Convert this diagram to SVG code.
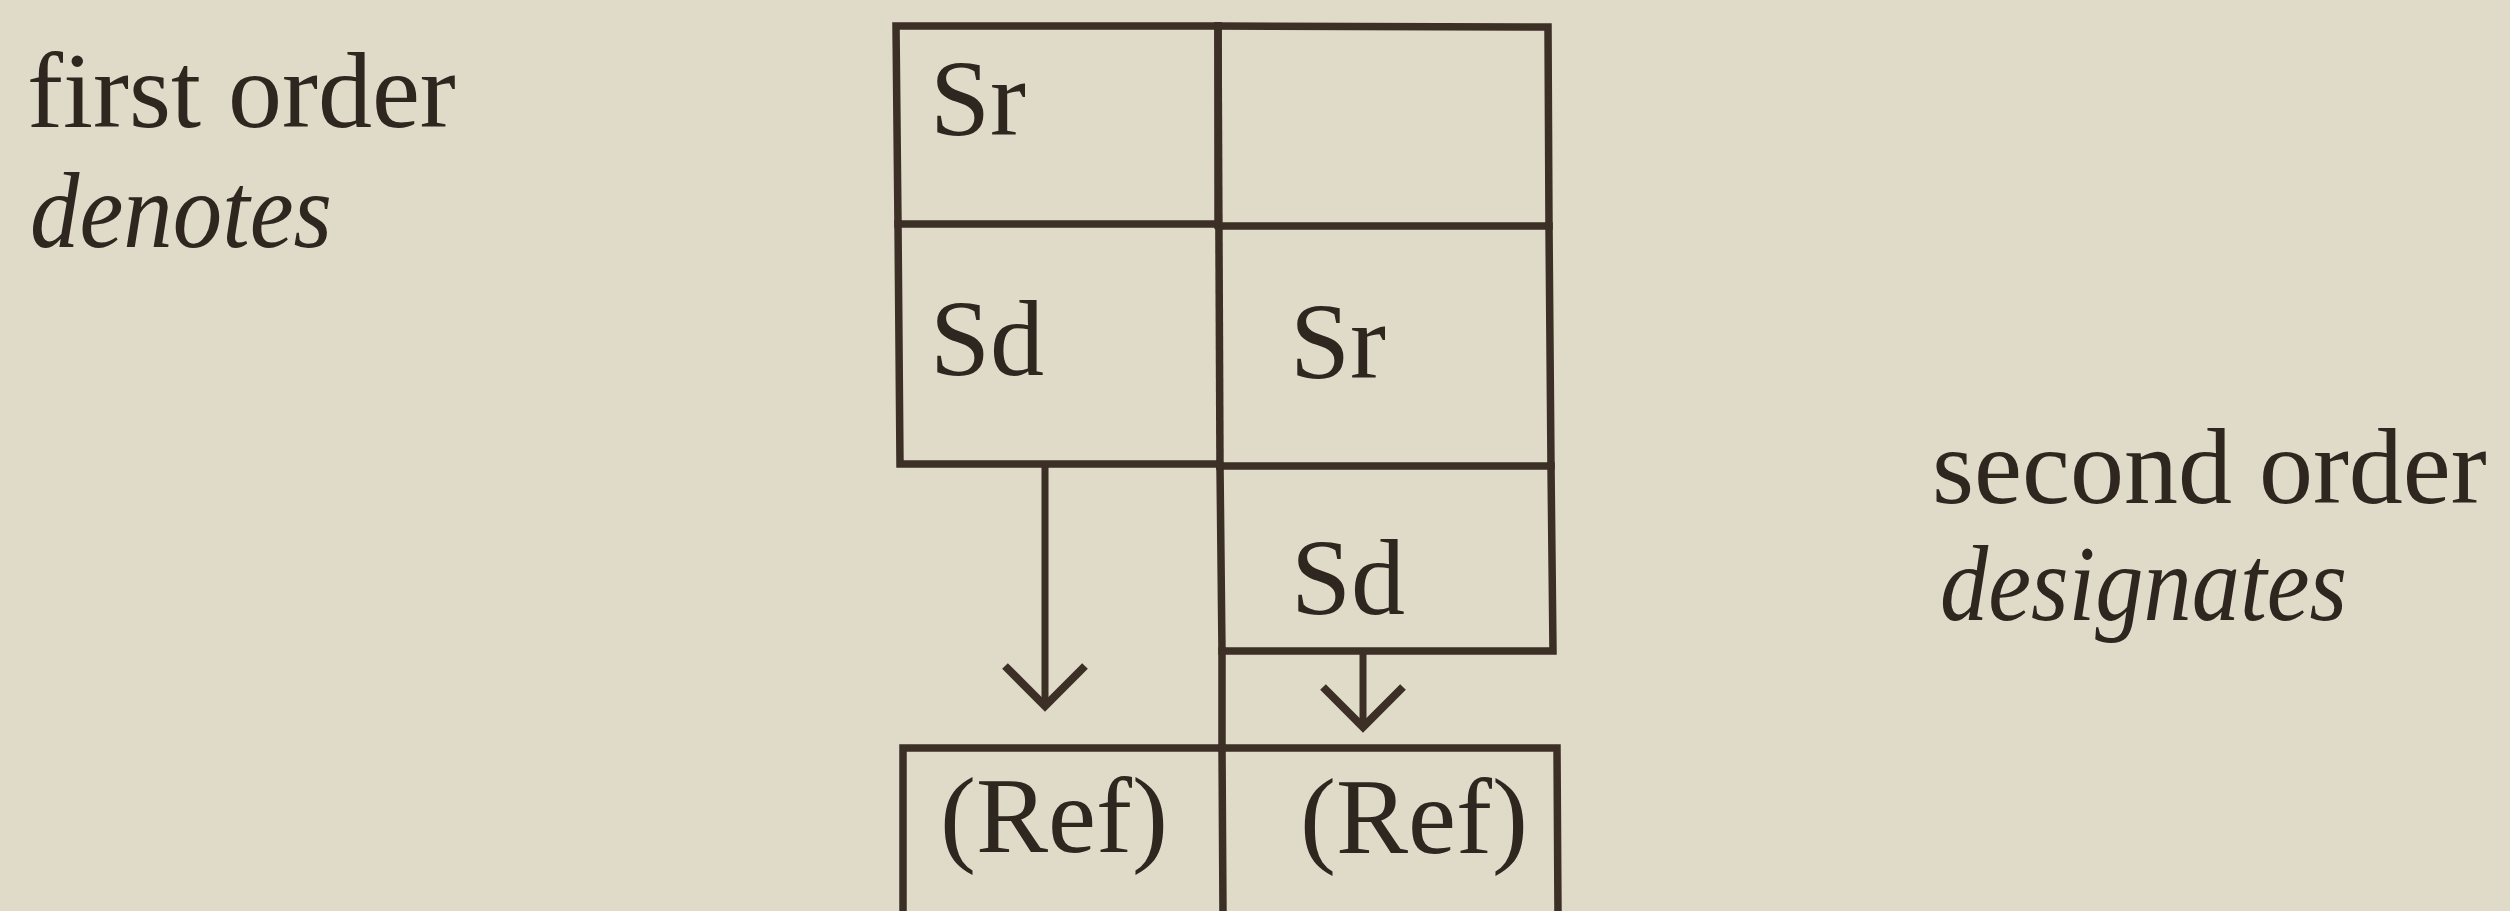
<svg xmlns="http://www.w3.org/2000/svg" width="2510" height="911" viewBox="0 0 2510 911">
<style>
.ln{fill:none;stroke:#3b2f26;stroke-width:7.5;stroke-linecap:square;stroke-linejoin:miter}
.ar{fill:none;stroke:#3b2f26;stroke-width:7}
.t{font-family:"Liberation Serif","Times New Roman",serif;font-size:108px;fill:#2f2620}
.i{font-style:italic}
</style>
<defs>
<marker id="chev" markerUnits="userSpaceOnUse" orient="auto" overflow="visible" markerWidth="1" markerHeight="1" refX="0" refY="0">
<path d="M-40,-40 L0,0 L-40,40" fill="none" stroke="#3b2f26" stroke-width="8" stroke-linejoin="miter"/>
</marker>
</defs>
<rect x="0" y="0" width="2510" height="911" fill="#dfdbc8"/>

<g id="label-first">
<text class="t" x="27" y="127">first order</text>
<text class="t i" x="30" y="247" textLength="302" lengthAdjust="spacingAndGlyphs">denotes</text>
</g>
<g id="label-second">
<text class="t" x="1932" y="503">second order</text>
<text class="t i" x="1940" y="620" textLength="407" lengthAdjust="spacingAndGlyphs">designates</text>
</g>

<g id="node-sr1">
<polyline class="ln" points="1218,225 1218,26 896,26 898,224 1218,224"/>
<text class="t" x="930" y="135">Sr</text>
</g>
<g id="node-top-right">
<polyline class="ln" points="1218,26 1548,27 1549,226 1219,226"/>
</g>
<g id="node-sd1">
<polyline class="ln" points="898,224 900,464 1219,464"/>
<text class="t" x="930" y="375">Sd</text>
</g>
<g id="node-sr2">
<polyline class="ln" points="1549,226 1551,466 1220,466"/>
<line class="ln" x1="1218" y1="26" x2="1220" y2="466"/>
<text class="t" x="1290" y="378">Sr</text>
</g>
<g id="node-sd2">
<polyline class="ln" points="1220,466 1222,651 1553,651 1551,466"/>
<text class="t" x="1291" y="614">Sd</text>
</g>
<g id="node-ref1">
<polyline class="ln" points="903,915 903,748 1222,748 1223,915"/>
<line class="ln" x1="1222" y1="651" x2="1222" y2="748"/>
<text class="t" x="940" y="852">(Ref)</text>
</g>
<g id="node-ref2">
<polyline class="ln" points="1222,748 1557,748 1558,915"/>
<text class="t" x="1300" y="853">(Ref)</text>
</g>

<g id="connectors">
<line class="ar" x1="1045" y1="466" x2="1045" y2="706" marker-end="url(#chev)"/>
<line class="ar" x1="1363" y1="653" x2="1363" y2="727" marker-end="url(#chev)"/>
</g>
</svg>
